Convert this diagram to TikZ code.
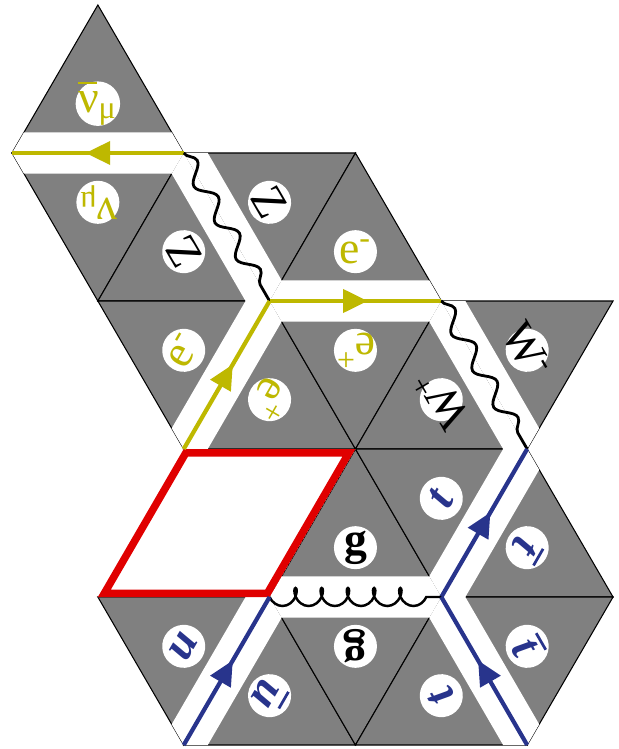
\documentclass[tikz,border=0pt]{standalone}
\usepackage{fontspec}
\setmainfont{Liberation Serif}
\usetikzlibrary{calc, arrows.meta, decorations.markings, decorations.pathmorphing}

\definecolor{tilegray}{RGB}{128,128,128}
\definecolor{lepton}{RGB}{190,184,0}
\definecolor{quark}{RGB}{40,52,140}
\definecolor{boxred}{RGB}{224,0,0}

% gray tile and the white strip along one of its edges
\newcommand{\tile}[3]{\filldraw[tilegray, draw=black, line width=0.3pt] (#1) -- (#2) -- (#3) -- cycle;}
\newcommand{\strip}[3]{\fill[white] (#1) -- (#2) -- ($(#2)!0.14!(#3)$) -- ($(#1)!0.14!(#3)$) -- cycle;}
\newcommand{\nbar}{\rlap{\raisebox{0.62em}{\rule{0.42em}{0.06em}}}}

\begin{document}
\begin{tikzpicture}[
    x={(0.8586cm,0)}, y={(0,-1.48cm)},
    tag/.style={circle, fill=white, inner sep=-4pt, minimum size=0.43cm,
                font=\fontsize{13}{14}\selectfont},
    nutag/.style={tag, inner sep=-1.5pt, text=lepton},
    fermion/.style={draw=#1, line width=1.2pt, postaction={decorate},
                    decoration={markings, mark=at position 0.5 with
                      {\arrow[xshift=3.5pt]{Triangle[length=7pt, width=6.5pt]}}}},
    boson/.style={draw=black, line width=0.8pt, decorate,
                  decoration={snake, amplitude=0.08cm, segment length=0.42cm}},
    gluon/.style={draw=black, line width=0.7pt, decorate,
                  decoration={coil, mirror, amplitude=0.09cm, segment length=0.262cm, aspect=0.7}}
  ]
    \useasboundingbox (-0.1398,-0.0338) rectangle (7.058,5.027);

    % lattice points
    \foreach \a/\r in {1/0,0/1,2/1,4/1,1/2,3/2,5/2,7/2,2/3,4/3,6/3,1/4,3/4,5/4,7/4,2/5,4/5,6/5}
      \coordinate (v\a\r) at (\a,\r);

    % tiles
    \foreach \p/\q/\s in {v10/v01/v21, v01/v21/v12, v12/v21/v32, v21/v41/v32, v32/v41/v52,
                          v12/v32/v23, v23/v32/v43, v32/v52/v43, v43/v52/v63, v52/v72/v63,
                          v34/v43/v54, v43/v63/v54, v54/v63/v74,
                          v14/v34/v25, v25/v34/v45, v34/v54/v45, v45/v54/v65, v54/v74/v65}
      \tile{\p}{\q}{\s};

    % strips along the particle lines
    \foreach \p/\q/\s in {v01/v21/v10, v01/v21/v12, v21/v32/v12, v21/v32/v41,
                          v32/v52/v41, v32/v52/v43, v32/v23/v12, v32/v23/v43,
                          v52/v63/v43, v52/v63/v72, v34/v54/v43, v34/v54/v45,
                          v63/v54/v43, v63/v54/v74, v34/v25/v14, v34/v25/v45,
                          v54/v65/v45, v54/v65/v74}
      \strip{\p}{\q}{\s};

    % empty slot
    \begin{scope}
      \clip (v23) -- (v43) -- (v34) -- (v14) -- cycle;
      \draw[boxred, fill=white, line width=0.15cm] (v23) -- (v43) -- (v34) -- (v14) -- cycle;
    \end{scope}

    % particle lines
    \draw[fermion=lepton] (v21) -- (v01);
    \draw[boson] (v21) -- (v32);
    \draw[fermion=lepton] (v23) -- (v32);
    \draw[fermion=lepton] (v32) -- (v52);
    \draw[boson] (v52) -- (v63);
    \draw[fermion=quark] (v54) -- (v63);
    \draw[gluon] (v34) -- (v54);
    \draw[fermion=quark] (v25) -- (v34);
    \draw[fermion=quark] (v65) -- (v54);

    % labels
    \node[nutag] (nubar) at (barycentric cs:v10=1,v01=1,v21=1) {\nbar ν\textsubscript{μ}};
    \node[nutag, rotate=180] (numu) at (barycentric cs:v01=1,v21=1,v12=1) {ν\textsubscript{μ}};
    \node[tag, rotate=120] (zleft) at (barycentric cs:v12=1,v21=1,v32=1) {Z};
    \node[tag, rotate=-60] (zright) at (barycentric cs:v21=1,v41=1,v32=1) {Z};
    \node[tag, text=lepton] (eminus) at (barycentric cs:v32=1,v41=1,v52=1) {e\textsuperscript{-}};
    \node[tag, text=lepton, rotate=60] (eminusb) at (barycentric cs:v12=1,v32=1,v23=1) {e\textsuperscript{-}};
    \node[tag, text=lepton, rotate=-120] (eplus) at (barycentric cs:v23=1,v32=1,v43=1) {e\textsuperscript{+}};
    \node[tag, text=lepton, rotate=180] (eplusb) at (barycentric cs:v32=1,v52=1,v43=1) {e\textsuperscript{+}};
    \node[tag, rotate=120] (wplus) at (barycentric cs:v43=1,v52=1,v63=1) {W\textsuperscript{+}};
    \node[tag, rotate=-60] (wminus) at (barycentric cs:v52=1,v72=1,v63=1) {W\textsuperscript{-}};
    \node[tag] (gup) at (barycentric cs:v34=1,v43=1,v54=1) {\textbf{g}};
    \node[tag, text=quark, rotate=60] (tup) at (barycentric cs:v43=1,v63=1,v54=1) {\textbf{\textit{t}}};
    \node[tag, text=quark, rotate=-120] (tbarup) at (barycentric cs:v54=1,v63=1,v74=1) {\nbar\textbf{\textit{t}}};
    \node[tag, text=quark, rotate=60] (uq) at (barycentric cs:v14=1,v34=1,v25=1) {\textbf{\textit{u}}};
    \node[tag, text=quark, rotate=-120] (ubar) at (barycentric cs:v25=1,v34=1,v45=1) {\nbar\textbf{\textit{u}}};
    \node[tag, rotate=180] (gdown) at (barycentric cs:v34=1,v54=1,v45=1) {\textbf{g}};
    \node[tag, text=quark, rotate=120] (tdown) at (barycentric cs:v45=1,v54=1,v65=1) {\textbf{\textit{t}}};
    \node[tag, text=quark, rotate=-60] (tbardown) at (barycentric cs:v54=1,v74=1,v65=1) {\nbar\textbf{\textit{t}}};
  \end{tikzpicture}
\end{document}
